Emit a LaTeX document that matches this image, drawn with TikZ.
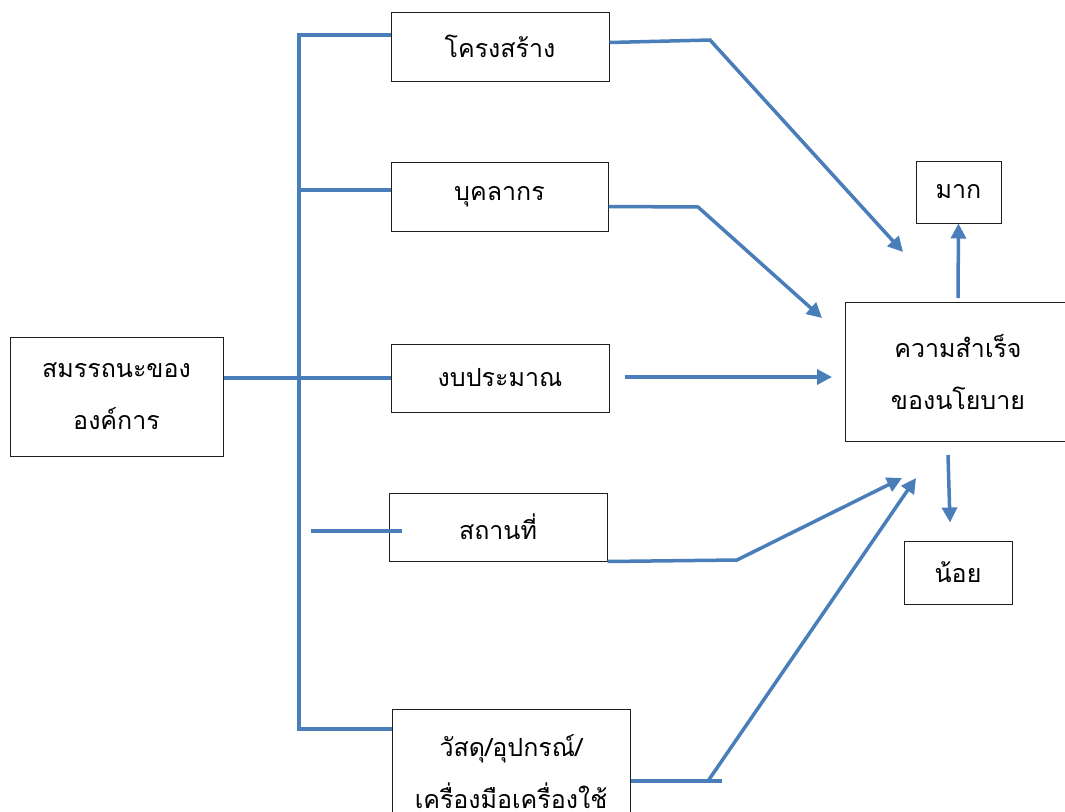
\documentclass[tikz,border=0pt]{standalone}
\usepackage{fontspec}
\setmainfont[Script=Thai]{Loma}
\usetikzlibrary{arrows.meta,positioning}
\definecolor{LinkBlue}{RGB}{74,126,187}
\definecolor{BoxLine}{RGB}{30,30,30}

\begin{document}
\begin{tikzpicture}[x=1pt,y=-1pt,
  box/.style={draw=BoxLine,line width=1pt,inner sep=0pt,align=center,font=\fontsize{25}{52}\selectfont},
  link/.style={LinkBlue,line width=3.5pt},
  arr/.style={link,-{Triangle[length=15pt,width=15pt]}}]
  \useasboundingbox (0,0) rectangle (1065,811);

  % boxes
  \node[box,minimum width=213pt,minimum height=119pt] (org) at (116.5,396.5) {สมรรถนะของ\\องค์การ};
  \node[box,minimum width=218pt,minimum height=69pt] (struct) at (500,46.5) {โครงสร้าง};
  \node[box,minimum width=217pt,minimum height=69pt] (staff) at (499.5,196.5) {บุคลากร};
  \node[box,minimum width=218pt,minimum height=68pt] (budget) at (500,378) {งบประมาณ};
  \node[box,minimum width=218pt,minimum height=68pt] (place) at (498,527) {สถานที่};
  \node[box,minimum width=238pt,minimum height=126pt] (tools) at (511,772) {วัสดุ/อุปกรณ์/\\เครื่องมือเครื่องใช้};
  \node[box,minimum width=226pt,minimum height=139pt] (success) at (958,372) {ความสำเร็จ\\ของนโยบาย};
  \node[box,minimum width=85pt,minimum height=62pt] (more) at (958.5,192) {มาก};
  \node[box,minimum width=108pt,minimum height=63pt] (less) at (958,572.5) {น้อย};

  % left side
  \coordinate (spT) at (299,35);
  \coordinate (spM) at (299,190);
  \coordinate (spB) at (299,729);
  \coordinate (pl0) at (311,531);
  \coordinate (pl1) at (402,531);
  \draw[link] (budget.west -| org.east) -- (budget.west);
  \draw[link] (spT -| struct.west) -- (spT) -- (spB) -- (spB -| tools.west);
  \draw[link] (spM) -- (spM -| staff.west);
  \draw[link] (pl0) -- (pl1);

  % right side
  \coordinate (k1) at (710,40);
  \coordinate (k1e) at (903,252);
  \coordinate (k2) at (698,207);
  \coordinate (k2e) at (822,318);
  \coordinate (b0) at (625,377);
  \coordinate (b1) at (832,377);
  \coordinate (k4) at (737,560);
  \coordinate (k4e) at (902,478);
  \coordinate (k5) at (708,781);
  \coordinate (k5t) at (722,781);
  \coordinate (k5e) at (916,478);
  \draw[arr] ([yshift=4pt]struct.east) -- (k1) -- (k1e);
  \draw[arr] ([yshift=-10pt]staff.east) -- (k2) -- (k2e);
  \draw[arr] (b0) -- (b1);
  \draw[arr] (place.south east) -- (k4) -- (k4e);
  \draw[link] ([yshift=-9pt]tools.east) -- (k5t);
  \draw[arr] (k5) -- (k5e);

  % result arrows
  \coordinate (up0) at (958,298);
  \coordinate (dn0) at (948,455);
  \draw[arr] (up0) -- (more.south);
  \draw[arr] (dn0) -- ([xshift=-8pt,yshift=18pt]less.north);
\end{tikzpicture}
\end{document}
